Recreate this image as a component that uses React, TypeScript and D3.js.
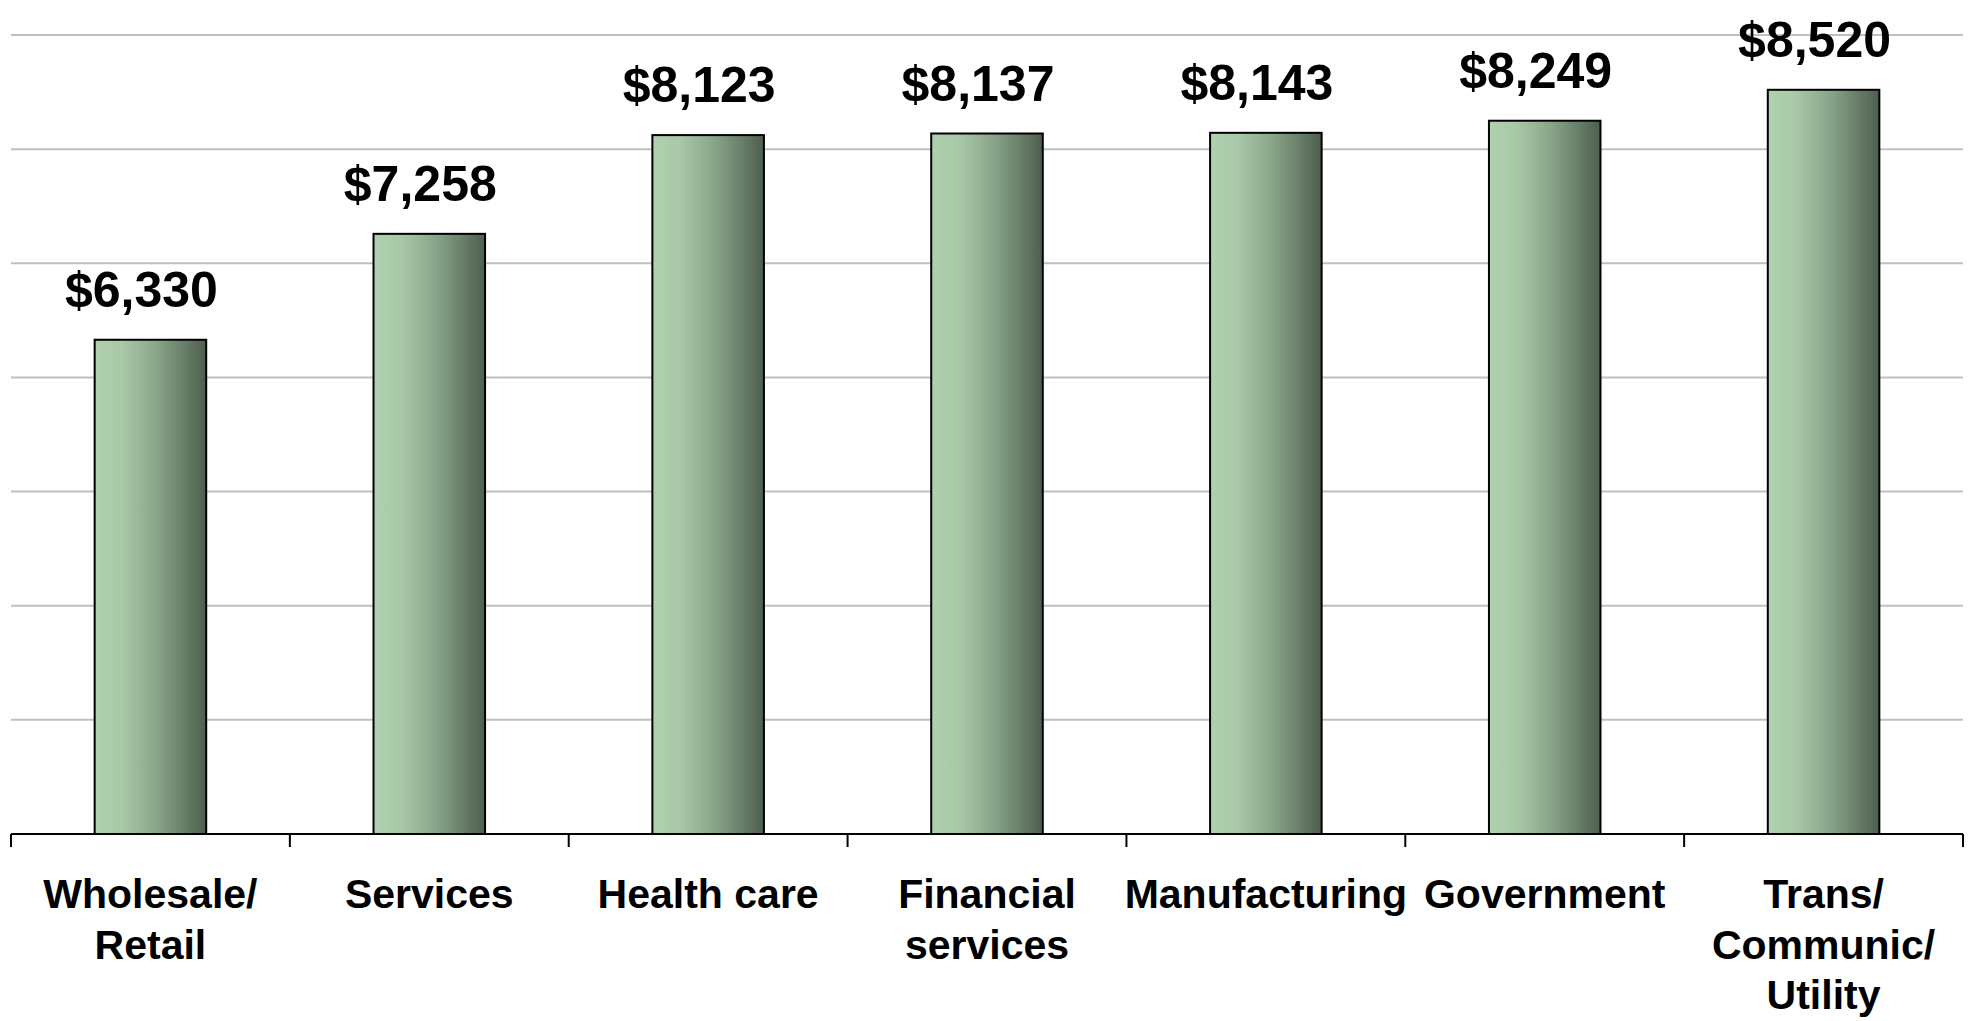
import React from "react";
import * as d3 from "d3";

const categories: string[][] = [
  ["Wholesale/", "Retail"],
  ["Services"],
  ["Health care"],
  ["Financial", "services"],
  ["Manufacturing"],
  ["Government"],
  ["Trans/", "Communic/", "Utility"],
];
const values: number[] = [6330, 7258, 8123, 8137, 8143, 8249, 8520];
const gridTicks: number[] = [2000, 3000, 4000, 5000, 6000, 7000, 8000, 9000];

const W = 1975;
const H = 1021;
const left = 11;
const right = 1963;
const top = 35;
const bottom = 834;

export default function App() {
  const idx = values.map((_, i) => String(i));
  const x = d3.scaleBand<string>().domain(idx).range([left, right]).paddingInner(0).paddingOuter(0);
  const y = d3.scaleLinear().domain([2000, 9000]).range([bottom, top]);
  const bw = x.bandwidth() * 0.4;
  const fmt = d3.format("$,");
  const font = "'Liberation Sans', Arial, sans-serif";

  return (
    <svg
      width={W}
      height={H}
      style={{ position: "absolute", left: 0, top: 0, background: "#fff" }}
    >
      <defs>
        <linearGradient id="barGrad" x1="0" x2="1" y1="0" y2="0">
          <stop offset="0%" stopColor="#b0d0b0" />
          <stop offset="25%" stopColor="#a9c8a8" />
          <stop offset="55%" stopColor="#8aa68a" />
          <stop offset="100%" stopColor="#4d5f4e" />
        </linearGradient>
      </defs>
      {gridTicks.slice(1).map((t) => (
        <line key={t} x1={left} x2={right} y1={y(t)} y2={y(t)} stroke="#c0c0c0" strokeWidth={2} />
      ))}
      {values.map((v, i) => {
        const cx = (x(String(i)) as number) + x.bandwidth() / 2;
        return (
          <g key={i}>
            <rect
              x={cx - bw / 2}
              y={y(v)}
              width={bw}
              height={bottom - y(v)}
              fill="url(#barGrad)"
              stroke="#000"
              strokeWidth={2}
            />
            <text
              x={cx - 9}
              y={y(v) - 33}
              textAnchor="middle"
              fontFamily={font}
              fontWeight="bold"
              fontSize={50}
              fill="#000"
            >
              {fmt(v)}
            </text>
          </g>
        );
      })}
      <line x1={left} x2={right} y1={bottom} y2={bottom} stroke="#000" strokeWidth={2} />
      {d3.range(values.length + 1).map((i) => {
        const tx = left + i * x.bandwidth();
        return <line key={i} x1={tx} x2={tx} y1={bottom} y2={bottom + 13} stroke="#000" strokeWidth={2} />;
      })}
      {categories.map((lines, i) => {
        const cx = (x(String(i)) as number) + x.bandwidth() / 2;
        return (
          <text
            key={i}
            x={cx}
            textAnchor="middle"
            fontFamily={font}
            fontWeight="bold"
            fontSize={41}
            fill="#000"
          >
            {lines.map((l, j) => (
              <tspan key={j} x={cx} y={908 + j * 50.5}>
                {l}
              </tspan>
            ))}
          </text>
        );
      })}
    </svg>
  );
}
